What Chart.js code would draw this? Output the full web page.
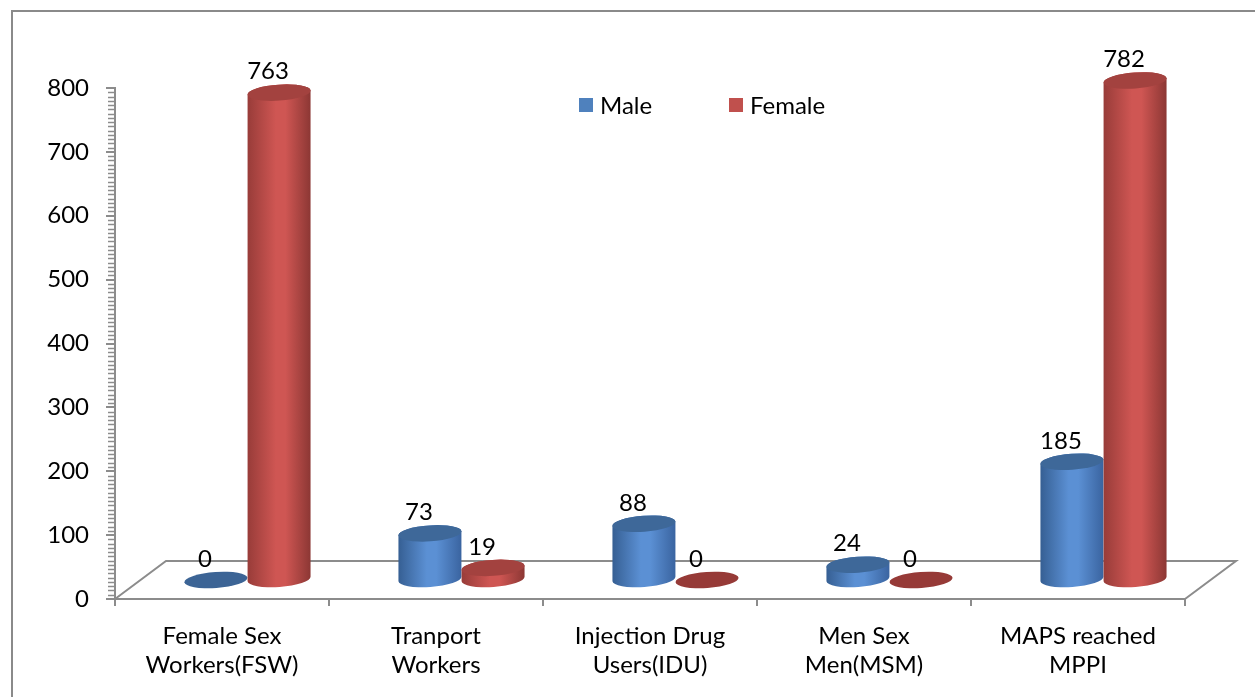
<!DOCTYPE html>
<html>
<head>
<meta charset="utf-8">
<script src="https://cdn.jsdelivr.net/npm/chart.js@4.4.0/dist/chart.umd.min.js"></script>
<style>
  html, body { margin: 0; padding: 0; background: #fff; overflow: hidden; }
  #frame { position: absolute; left: 11px; top: 10px; width: 1260px; height: 720px; border: 2px solid #8a8a8a; }
  #wrap { position: absolute; left: 0; top: 0; width: 1255px; height: 697px; }
</style>
</head>
<body>
<div id="frame"></div>
<div id="wrap"><canvas id="barChart" width="1255" height="697"></canvas></div>
<script>
// data
var categories = [
  ["Female Sex", "Workers(FSW)"],
  ["Tranport", "Workers"],
  ["Injection Drug", "Users(IDU)"],
  ["Men Sex", "Men(MSM)"],
  ["MAPS reached", "MPPI"]
];
var maleValues = [0, 73, 88, 24, 185];
var femaleValues = [763, 19, 0, 0, 782];
var seriesNames = ["Male", "Female"];
var yMax = 800;
var yStep = 100;

var FONT = "Lato, 'Open Sans', sans-serif";
var AXIS_GREY = '#8c8c8c';

// 3d look
var depthX = 51, depthY = -38;
var shiftX = depthX / 2, shiftY = depthY / 2;
var tilt = -0.07;

var shades = [
  { legend: '#4F81BD', dark: '#365f93', light: '#5b90d4', dark2: '#3a64a0', top: '#3e6899', flat: '#3c6495' },
  { legend: '#C0504D', dark: '#983c39', light: '#cf5653', dark2: '#8c3734', top: '#a3423f', flat: '#963a37' }
];

function drawCylinder(ctx, cx, yTop, yBase, rx, ry, s) {
  if (yBase - yTop < 1) {
    ctx.beginPath();
    ctx.ellipse(cx, yBase, rx, ry, tilt, 0, Math.PI * 2);
    ctx.fillStyle = s.flat;
    ctx.fill();
    return;
  }
  var g = ctx.createLinearGradient(cx - rx, 0, cx + rx, 0);
  g.addColorStop(0, s.dark);
  g.addColorStop(0.45, s.light);
  g.addColorStop(0.6, s.light);
  g.addColorStop(1, s.dark2);
  ctx.beginPath();
  ctx.ellipse(cx, yBase, rx, ry, tilt, Math.PI, 0, true);
  ctx.ellipse(cx, yTop, rx, ry, tilt, 0, Math.PI, true);
  ctx.closePath();
  ctx.fillStyle = g;
  ctx.fill();
  ctx.beginPath();
  ctx.ellipse(cx, yTop, rx, ry, tilt, 0, Math.PI * 2);
  ctx.fillStyle = s.top;
  ctx.fill();
}

var cylinderPlugin = {
  id: 'cylinders',
  beforeDatasetsDraw: function (chart) {
    // floor
    var ctx = chart.ctx, a = chart.chartArea;
    ctx.save();
    ctx.strokeStyle = AXIS_GREY;
    ctx.lineWidth = 2;
    ctx.beginPath();
    ctx.moveTo(a.left, a.bottom);
    ctx.lineTo(a.left + depthX, a.bottom + depthY);
    ctx.lineTo(a.right + depthX, a.bottom + depthY);
    ctx.lineTo(a.right, a.bottom);
    ctx.stroke();
    // minor ticks on the value axis
    var ys = chart.scales.y;
    ctx.lineWidth = 1.5;
    var n = (yMax / yStep) * 15;
    for (var i = 0; i <= n; i++) {
      if (i % 15 === 0) continue;
      var py = Math.round(ys.getPixelForValue(i * yMax / n)) + 0.5;
      ctx.beginPath();
      ctx.moveTo(a.left - 7, py);
      ctx.lineTo(a.left, py);
      ctx.stroke();
    }
    ctx.restore();
  },
  afterDatasetsDraw: function (chart) {
    var ctx = chart.ctx;
    ctx.save();
    var nCat = chart.data.labels.length;
    for (var i = 0; i < nCat; i++) {
      chart.data.datasets.forEach(function (ds, d) {
        var bar = chart.getDatasetMeta(d).data[i];
        var cx = bar.x + shiftX;
        var rx = bar.width / 2;
        var yTop = bar.y + shiftY;
        var yBase = bar.base + shiftY;
        drawCylinder(ctx, cx, yTop, yBase, rx, 8, shades[d]);
      });
    }
    // value labels
    ctx.fillStyle = '#000';
    ctx.font = '24px ' + FONT;
    ctx.textAlign = 'center';
    ctx.textBaseline = 'middle';
    chart.data.datasets.forEach(function (ds, d) {
      chart.getDatasetMeta(d).data.forEach(function (bar, i) {
        ctx.fillText(String(ds.data[i]), bar.x + shiftX - 11, bar.y + shiftY - 21);
      });
    });
    ctx.restore();
  },
  afterDraw: function (chart) {
    // legend
    var ctx = chart.ctx;
    ctx.save();
    ctx.font = '24px ' + FONT;
    ctx.textBaseline = 'middle';
    ctx.textAlign = 'left';
    var lx = 579, ly = 105;
    chart.data.datasets.forEach(function (ds, d) {
      ctx.fillStyle = shades[d].legend;
      ctx.fillRect(lx + d * 150, ly - 7, 14, 14);
      ctx.fillStyle = '#000';
      ctx.fillText(ds.label, lx + d * 150 + 21, ly + 1);
    });
    ctx.restore();
  }
};

var ctx = document.getElementById('barChart').getContext('2d');
var myChart = new Chart(ctx, {
  type: 'bar',
  data: {
    labels: categories,
    datasets: [
      { label: seriesNames[0], data: maleValues, backgroundColor: 'rgba(0,0,0,0)', categoryPercentage: 0.59, barPercentage: 1.0 },
      { label: seriesNames[1], data: femaleValues, backgroundColor: 'rgba(0,0,0,0)', categoryPercentage: 0.59, barPercentage: 1.0 }
    ]
  },
  options: {
    responsive: false,
    animation: false,
    layout: { padding: { top: 88, right: 70, left: 0, bottom: 0 } },
    plugins: {
      legend: { display: false },
      tooltip: { enabled: false },
      title: { display: false }
    },
    scales: {
      x: {
        grid: { display: true, drawOnChartArea: false, offset: true, color: AXIS_GREY, lineWidth: 2, tickLength: 7 },
        border: { display: true, color: AXIS_GREY, width: 2 },
        ticks: { color: '#000', font: { family: FONT, size: 24 }, padding: 16, maxRotation: 0, autoSkip: false },
        afterFit: function (s) { s.height = 98; }
      },
      y: {
        min: 0,
        max: yMax,
        grid: { display: true, drawOnChartArea: false, color: AXIS_GREY, lineWidth: 2, tickLength: 9 },
        border: { display: true, color: AXIS_GREY, width: 2 },
        ticks: { stepSize: yStep, color: '#000', font: { family: FONT, size: 24 }, padding: 17 },
        afterFit: function (s) { s.width = 115; }
      }
    }
  },
  plugins: [cylinderPlugin]
});
</script>
</body>
</html>
